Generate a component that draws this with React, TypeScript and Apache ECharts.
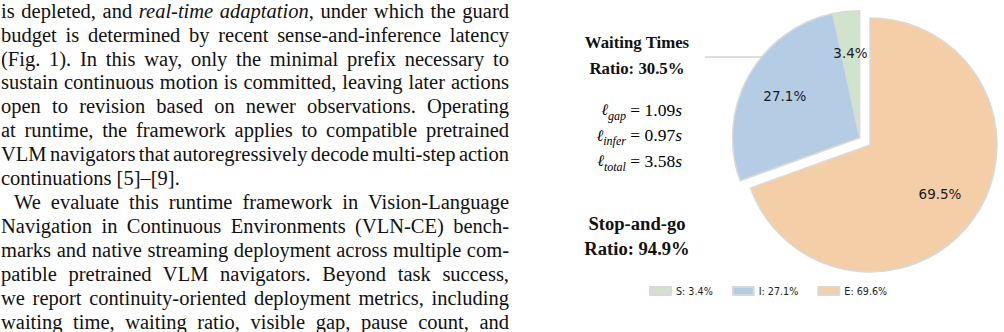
import React, { useEffect, useLayoutEffect, useRef } from "react";
import * as echarts from "echarts";

// ---------- data ----------
const categories = ["S", "I", "E"];
const values = [3.4, 27.1, 69.5];
const legendLabels = ["S: 3.4%", "I: 27.1%", "E: 69.6%"];
const colors = ["#d1e3cc", "#b4cce4", "#f3cea6"];
const explodedGroup = ["S", "I"];
const topTitle = ["Waiting Times", "Ratio: 30.5%"];
const latencyNames = ["gap", "infer", "total"];
const latencyValues = ["1.09", "0.97", "3.58"];
const bottomTitle = ["Stop-and-go", "Ratio: 94.9%"];

const bodyLines = [
  "is depleted, and *real-time adaptation*, under which the guard",
  "budget is determined by recent sense-and-inference latency",
  "(Fig. 1). In this way, only the minimal prefix necessary to",
  "sustain continuous motion is committed, leaving later actions",
  "open to revision based on newer observations. Operating",
  "at runtime, the framework applies to compatible pretrained",
  "VLM navigators that autoregressively decode multi-step action",
  "continuations [5]–[9].",
  "We evaluate this runtime framework in Vision-Language",
  "Navigation in Continuous Environments (VLN-CE) bench-",
  "marks and native streaming deployment across multiple com-",
  "patible pretrained VLM navigators. Beyond task success,",
  "we report continuity-oriented deployment metrics, including",
  "waiting time, waiting ratio, visible gap, pause count, and",
];
const raggedLines = [7];
const indentLines = [8];

// ---------- layout ----------
const W = 1004;
const H = 332;
const COL_LEFT = 1;
const COL_W = 508;
const INDENT = 13;
const LINE_H = 23.92;
const BODY_TOP = -0.3;
const BODY_FONT = 20.5;

const CX = 870;
const CY = 145;
const R = 127;
const EXPLODE = 0.1;
const PCT_DIST = 0.65;
const EDGE = "#d9d9d9";
const SERIF = "Liberation Serif";

function BodyText() {
  const refs = useRef<(HTMLSpanElement | null)[]>([]);
  useLayoutEffect(() => {
    refs.current.forEach((el, i) => {
      if (!el || raggedLines.includes(i)) return;
      el.style.wordSpacing = "0px";
      const w = el.getBoundingClientRect().width;
      const target = COL_W - (indentLines.includes(i) ? INDENT : 0);
      const n = (bodyLines[i].match(/ /g) || []).length;
      if (n > 0) el.style.wordSpacing = `${(target - w) / n}px`;
    });
  }, []);
  return (
    <div
      style={{
        position: "absolute",
        left: COL_LEFT,
        top: 0,
        width: COL_W,
        height: H,
        fontFamily: '"Liberation Serif", "Times New Roman", serif',
        fontSize: BODY_FONT,
        color: "#111",
        zIndex: 2,
      }}
    >
      {bodyLines.map((line, i) => (
        <div
          key={i}
          style={{
            position: "absolute",
            top: BODY_TOP + i * LINE_H,
            left: indentLines.includes(i) ? INDENT : 0,
            height: LINE_H,
            lineHeight: `${LINE_H}px`,
            whiteSpace: "nowrap",
          }}
        >
          <span
            ref={(el) => {
              refs.current[i] = el;
            }}
          >
            {line.split("*").map((seg, k) =>
              k % 2 === 1 ? (
                <i key={k}>{seg}</i>
              ) : (
                <React.Fragment key={k}>{seg}</React.Fragment>
              )
            )}
          </span>
        </div>
      ))}
    </div>
  );
}

function PieChart() {
  const ref = useRef<HTMLDivElement | null>(null);
  useEffect(() => {
    const chart = echarts.init(ref.current!, null, { renderer: "svg" });
    const total = values.reduce((a, b) => a + b, 0);
    const inGroup = (i: number) => explodedGroup.includes(categories[i]);
    const groupShare =
      values.filter((_, i) => inGroup(i)).reduce((a, b) => a + b, 0) / total;
    const midRad = ((90 + groupShare * 180) * Math.PI) / 180;
    const off = EXPLODE * R;
    const cExp = [CX + off * Math.cos(midRad), CY - off * Math.sin(midRad)];

    const base: any = {
      type: "pie",
      startAngle: 90,
      clockwise: false,
      avoidLabelOverlap: false,
      labelLine: { show: false },
      emphasis: { disabled: true },
      silent: true,
      minShowLabelAngle: 0,
    };

    const visibleData = (group: boolean) =>
      categories.map((c, i) => {
        const show = inGroup(i) === group;
        return {
          name: show ? c : `_${c}_${group ? "a" : "b"}`,
          value: values[i],
          itemStyle: show
            ? { color: colors[i], borderColor: EDGE, borderWidth: 1.5 }
            : { color: "rgba(0,0,0,0)", borderWidth: 0 },
        };
      });

    const labelData = (group: boolean) =>
      categories.map((c, i) => {
        const show = inGroup(i) === group;
        return {
          name: `lbl_${c}_${group ? "a" : "b"}`,
          value: values[i],
          itemStyle: { color: "rgba(0,0,0,0)", borderWidth: 0 },
          label: { show },
        };
      });

    const labelCfg = {
      position: "inside",
      formatter: (p: any) => `${Number(p.value).toFixed(1)}%`,
      fontFamily: "DejaVu Sans",
      fontSize: 13.5,
      color: "#1a1a1a",
      textBorderWidth: 0,
    };

    const mathRich = {
      l: { fontFamily: "DejaVu Serif", fontStyle: "italic", fontSize: 16, lineHeight: 24, color: "#111" },
      s: { fontFamily: SERIF, fontStyle: "italic", fontSize: 12, lineHeight: 15, verticalAlign: "bottom", color: "#111" },
      m: { fontFamily: SERIF, fontSize: 17.5, lineHeight: 24, color: "#111" },
      i: { fontFamily: SERIF, fontStyle: "italic", fontSize: 17.5, lineHeight: 24, color: "#111" },
    };
    const mathY = [109.5, 135, 160.5];

    const boldText = (text: string, y: number, size: number) => ({
      type: "text",
      x: 637,
      y,
      silent: true,
      style: {
        text,
        fontFamily: SERIF,
        fontWeight: "bold",
        fontSize: size,
        fill: "#111",
        align: "center",
        verticalAlign: "middle",
      },
    });

    chart.setOption({
      animation: false,
      legend: {
        data: categories,
        left: 649,
        top: 286,
        padding: 0,
        orient: "horizontal",
        itemWidth: 21,
        itemHeight: 8,
        itemGap: 19,
        icon: "rect",
        selectedMode: false,
        formatter: (n: string) => legendLabels[categories.indexOf(n)],
        textStyle: { fontFamily: "DejaVu Sans", fontSize: 9.6, color: "#222" },
      },
      series: [
        { ...base, center: cExp, radius: [0, R], data: visibleData(true), label: { show: false } },
        { ...base, center: [CX, CY], radius: [0, R], data: visibleData(false), label: { show: false } },
        {
          ...base,
          center: cExp,
          radius: [R * (2 * PCT_DIST - 1), R],
          data: labelData(true),
          label: labelCfg,
        },
        {
          ...base,
          center: [CX, CY],
          radius: [R * (2 * PCT_DIST - 1), R],
          data: labelData(false),
          label: labelCfg,
        },
      ],
      graphic: [
        boldText(topTitle[0], 42.6, 16.8),
        boldText(topTitle[1], 68.3, 16.8),
        boldText(bottomTitle[0], 223, 18.6),
        boldText(bottomTitle[1], 248.7, 18.6),
        ...latencyNames.map((nm, k) => ({
          type: "text",
          x: 682,
          y: mathY[k],
          silent: true,
          style: {
            text: `{l|ℓ}{s|${nm}}{m| = ${latencyValues[k]}}{i|s}`,
            rich: mathRich,
            align: "right",
            verticalAlign: "middle",
          },
        })),
        {
          type: "polyline",
          silent: true,
          shape: { points: [[705, 57], [762, 57], [780, 72]] },
          style: { stroke: "#d4d4d4", lineWidth: 1.5, fill: "none" },
        },
        {
          type: "circle",
          silent: true,
          shape: { cx: 780, cy: 72, r: 3.6 },
          style: { fill: "#d4d4d4" },
        },
      ],
    });
    return () => chart.dispose();
  }, []);
  return (
    <div
      ref={ref}
      style={{ position: "absolute", left: 0, top: 0, width: W, height: H }}
    />
  );
}

export default function App() {
  return (
    <div
      style={{
        position: "fixed",
        left: 0,
        top: 0,
        width: W,
        height: H,
        background: "#fff",
        overflow: "hidden",
      }}
    >
      <PieChart />
      <BodyText />
    </div>
  );
}
